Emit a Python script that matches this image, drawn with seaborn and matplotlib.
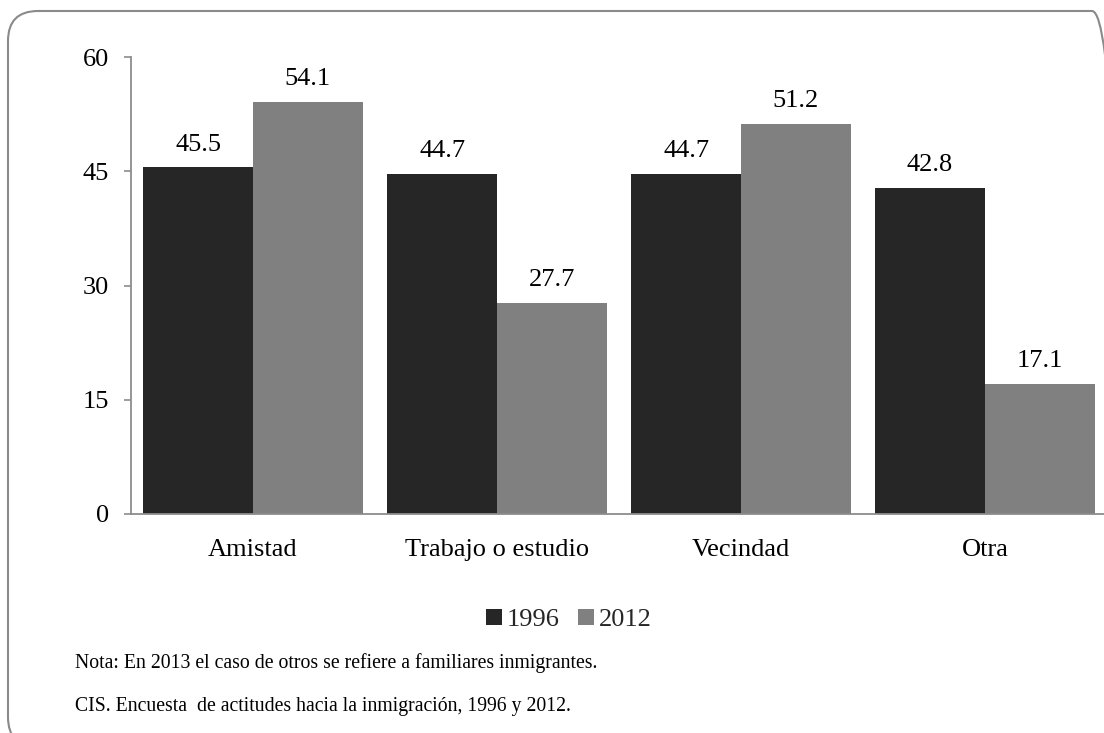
import matplotlib
matplotlib.use("Agg")
import matplotlib.pyplot as plt
import seaborn as sns
import pandas as pd
from matplotlib.patches import FancyBboxPatch, Patch

categories = ["Amistad", "Trabajo o estudio", "Vecindad", "Otra"]
years = ["1996", "2012"]
values_1996 = [45.5, 44.7, 44.7, 42.8]
values_2012 = [54.1, 27.7, 51.2, 17.1]
yticks = [0, 15, 30, 45, 60]
note1 = "Nota: En 2013 el caso de otros se refiere a familiares inmigrantes."
note2 = "CIS. Encuesta  de actitudes hacia la inmigración, 1996 y 2012."

df = pd.DataFrame({
    "cat": categories * 2,
    "year": [years[0]] * 4 + [years[1]] * 4,
    "val": values_1996 + values_2012,
})

sns.set_theme(style="white")
plt.rcParams["font.family"] = ["Liberation Serif", "DejaVu Serif"]

FS = 19
W, H = 1104, 733
fig = plt.figure(figsize=(W / 100, H / 100), dpi=100)
ax = fig.add_axes([131 / W, (H - 514) / H, (1107 - 131) / W, (514 - 57) / H])

colors = {"1996": "#262626", "2012": "#808080"}
sns.barplot(data=df, x="cat", y="val", hue="year", palette=colors,
            order=categories, hue_order=years, width=0.9, ax=ax,
            saturation=1, legend=False, linewidth=0, errorbar=None)

ax.set_xlim(-0.5, 3.5)
ax.set_ylim(0, 60)
ax.set_yticks(yticks)
ax.set_yticklabels([str(t) for t in yticks])
ax.set_xlabel("")
ax.set_ylabel("")

for c in ax.containers:
    ax.bar_label(c, fmt="%.1f", padding=8.5, fontsize=FS, color="black")

for s in ["top", "right"]:
    ax.spines[s].set_visible(False)
for s in ["left", "bottom"]:
    ax.spines[s].set_color("#8c8c8c")
    ax.spines[s].set_linewidth(1.3)

ax.tick_params(axis="y", length=5, width=1.2, color="#8c8c8c", direction="out",
               pad=11, labelsize=FS, labelcolor="black", left=True)
ax.tick_params(axis="x", length=0, pad=18, labelsize=FS, labelcolor="black")

handles = [Patch(facecolor=colors[y], edgecolor="none", label=y) for y in years]
fig.legend(handles=handles, loc="center", bbox_to_anchor=(569 / W, (H - 620) / H),
           ncol=2, frameon=False, fontsize=FS, handlelength=0.6, handleheight=0.6,
           handletextpad=0.2, columnspacing=0.7)

fig.text(75 / W, (H - 663) / H, note1, fontsize=14.2, va="center", ha="left", color="black")
fig.text(75 / W, (H - 706) / H, note2, fontsize=14.2, va="center", ha="left", color="black")

box = FancyBboxPatch((0.08, -0.14), 11.14, 7.36,
                     boxstyle="round,pad=0,rounding_size=0.3",
                     transform=fig.dpi_scale_trans, facecolor="none",
                     edgecolor="#8a8a8a", linewidth=1.5, clip_on=False)
fig.patches.append(box)

fig.savefig("out.png", dpi=100)
